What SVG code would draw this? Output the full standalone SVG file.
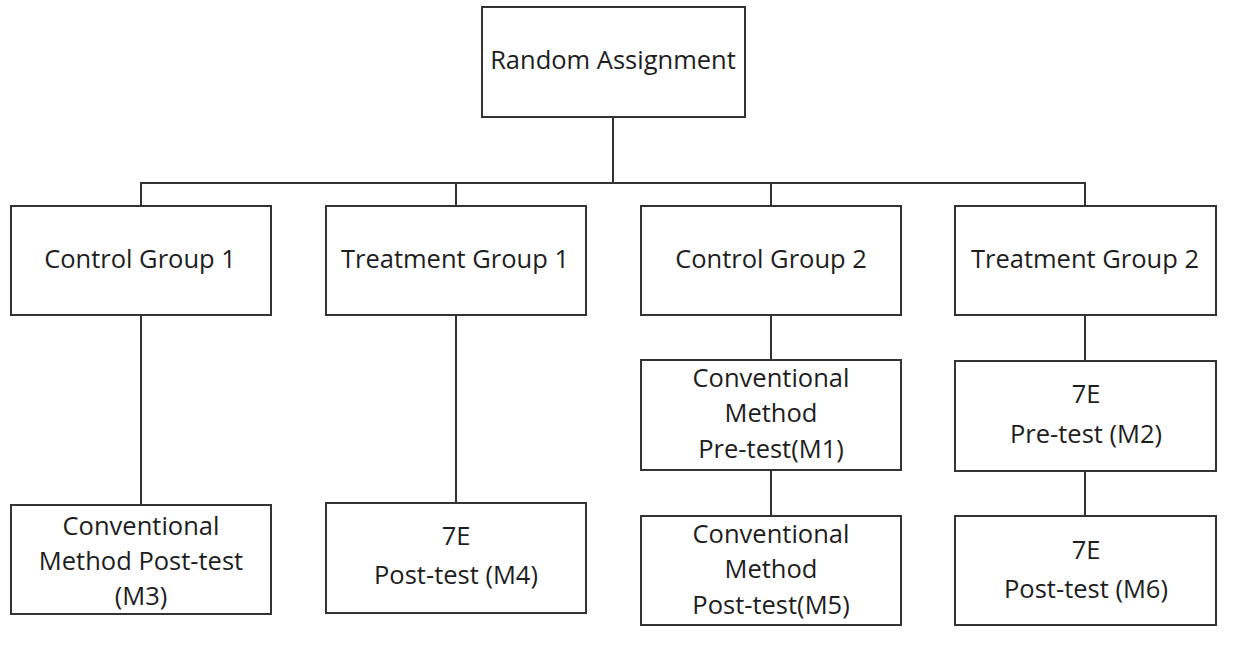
<svg xmlns="http://www.w3.org/2000/svg" width="1254" height="655" viewBox="0 0 1254 655">
<style>
.box{fill:#fff;stroke:#333;stroke-width:2}
.t{font-family:"Open Sans","Liberation Sans",sans-serif;font-size:25.5px;fill:#1e1e1e;text-anchor:middle}
.c{stroke:#333;stroke-width:2;fill:none}
</style>
<rect width="1254" height="655" fill="#fff"/>
<g id="connectors">
<line class="c" x1="613" y1="117" x2="613" y2="183"/>
<line class="c" x1="140" y1="183" x2="1086" y2="183"/>
<line class="c" x1="141" y1="183" x2="141" y2="206"/>
<line class="c" x1="456" y1="183" x2="456" y2="206" stroke="#888"/>
<line class="c" x1="771" y1="183" x2="771" y2="206"/>
<line class="c" x1="1085" y1="183" x2="1085" y2="206"/>
<line class="c" x1="141" y1="315" x2="141" y2="505"/>
<line class="c" x1="456" y1="315" x2="456" y2="503"/>
<line class="c" x1="771" y1="315" x2="771" y2="360"/>
<line class="c" x1="771" y1="470" x2="771" y2="516"/>
<line class="c" x1="1085" y1="315" x2="1085" y2="361"/>
<line class="c" x1="1085" y1="471" x2="1085" y2="516"/>
</g>
<g id="random">
<rect class="box" x="482" y="7" width="263" height="110"/>
<text class="t" x="613" y="69">Random Assignment</text>
</g>
<g id="cg1">
<rect class="box" x="11" y="206" width="260" height="109"/>
<text class="t" x="140" y="268">Control Group 1</text>
</g>
<g id="tg1">
<rect class="box" x="326" y="206" width="260" height="109"/>
<text class="t" x="455" y="268">Treatment Group 1</text>
</g>
<g id="cg2">
<rect class="box" x="641" y="206" width="260" height="109"/>
<text class="t" x="771" y="268">Control Group 2</text>
</g>
<g id="tg2">
<rect class="box" x="955" y="206" width="261" height="109"/>
<text class="t" x="1085" y="268">Treatment Group 2</text>
</g>
<g id="cg1post">
<rect class="box" x="11" y="505" width="260" height="109"/>
<text class="t"><tspan x="141" y="535">Conventional</tspan><tspan x="141" y="570">Method Post-test</tspan><tspan x="141" y="605">(M3)</tspan></text>
</g>
<g id="tg1post">
<rect class="box" x="326" y="503" width="260" height="110"/>
<text class="t"><tspan x="456" y="545">7E</tspan><tspan x="456" y="584">Post-test (M4)</tspan></text>
</g>
<g id="cg2pre">
<rect class="box" x="641" y="360" width="260" height="110"/>
<text class="t"><tspan x="771" y="387">Conventional</tspan><tspan x="771" y="422">Method</tspan><tspan x="771" y="458">Pre-test(M1)</tspan></text>
</g>
<g id="cg2post">
<rect class="box" x="641" y="516" width="260" height="109"/>
<text class="t"><tspan x="771" y="543">Conventional</tspan><tspan x="771" y="578">Method</tspan><tspan x="771" y="614">Post-test(M5)</tspan></text>
</g>
<g id="tg2pre">
<rect class="box" x="955" y="361" width="261" height="110"/>
<text class="t"><tspan x="1086" y="403">7E</tspan><tspan x="1086" y="443">Pre-test (M2)</tspan></text>
</g>
<g id="tg2post">
<rect class="box" x="955" y="516" width="261" height="109"/>
<text class="t"><tspan x="1086" y="559">7E</tspan><tspan x="1086" y="598">Post-test (M6)</tspan></text>
</g>
</svg>
